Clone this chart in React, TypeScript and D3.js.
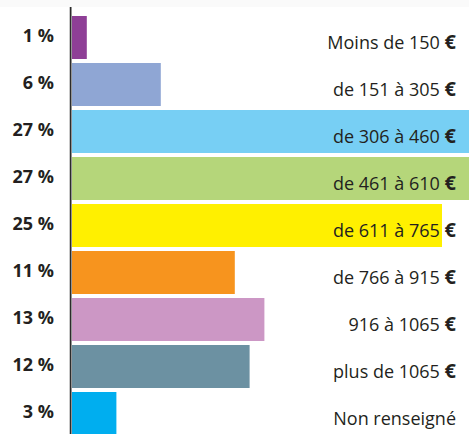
import React from "react";
import * as d3 from "d3";

const categories = [
  "Moins de 150",
  "de 151 à 305",
  "de 306 à 460",
  "de 461 à 610",
  "de 611 à 765",
  "de 766 à 915",
  "916 à 1065",
  "plus de 1065",
  "Non renseigné",
];
const hasEuro = [true, true, true, true, true, true, true, true, false];
const values = [1, 6, 27, 27, 25, 11, 13, 12, 3];
const percentLabels = ["1 %", "6 %", "27 %", "27 %", "25 %", "11 %", "13 %", "12 %", "3 %"];
const colors = [
  "#8e3f96",
  "#8fa6d4",
  "#77cff4",
  "#b5d67a",
  "#fff000",
  "#f7941e",
  "#cc97c5",
  "#6c91a2",
  "#00aeef",
];

const W = 469;
const H = 434;

export default function App() {
  const x = d3.scaleLinear().domain([0, 100]).range([72, 72 + 1480]);
  const y = d3
    .scaleBand<string>()
    .domain(categories)
    .range([16, 435])
    .paddingInner(4 / 47)
    .paddingOuter(0);
  const bw = y.bandwidth();
  const textColor = "#231f20";

  return (
    <svg
      width={W}
      height={H}
      style={{ position: "absolute", left: 0, top: 0, background: "#fff" }}
      fontFamily="'Open Sans', sans-serif"
    >
      <rect x={0} y={0} width={W} height={7} fill="#fafafa" />
      {categories.map((c, i) => {
        const y0 = y(c)!;
        const cy = y0 + bw / 2;
        return (
          <g key={c}>
            <rect
              x={x(0)}
              y={y0}
              width={Math.min(x(values[i]), W) - x(0)}
              height={bw}
              fill={colors[i]}
            />
            <text
              x={54}
              y={cy + 4.5}
              textAnchor="end"
              fontWeight="bold"
              fontSize={18}
              fill={textColor}
            >
              {percentLabels[i]}
            </text>
            <text
              x={456}
              y={cy + 11}
              textAnchor="end"
              fontSize={18}
              fill={textColor}
            >
              {c}
              {hasEuro[i] ? " " : ""}
              {hasEuro[i] ? (
                <tspan fontWeight="bold" fontSize={20}>
                  €
                </tspan>
              ) : null}
            </text>
          </g>
        );
      })}
      <line x1={69.5} x2={69.5} y1={7} y2={H} stroke="#c8c8c8" strokeWidth={1} />
      <line x1={70.75} x2={70.75} y1={7} y2={H} stroke="#2b2b2b" strokeWidth={1.5} />
    </svg>
  );
}
